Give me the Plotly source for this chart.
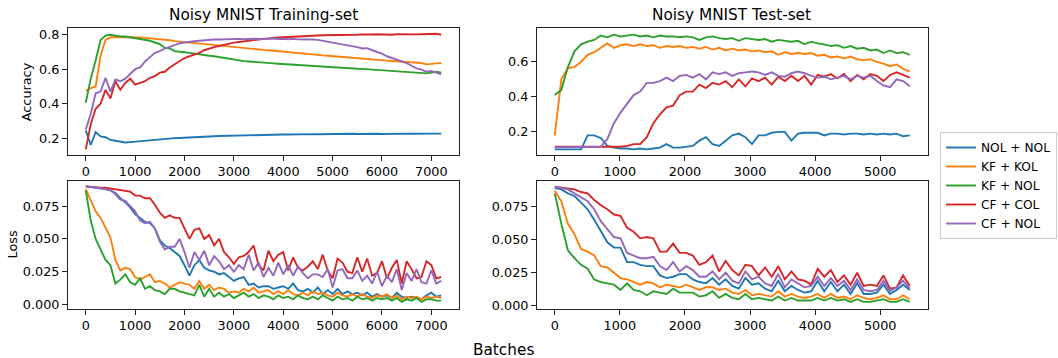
import plotly.graph_objects as go

# ---------------- data ----------------
names = ["NOL + NOL", "KF + KOL", "KF + NOL", "CF + COL", "CF + NOL"]
colors = ["#1f77b4", "#ff7f0e", "#2ca02c", "#d62728", "#9467bd"]

train_batches = list(range(0, 7300, 100))          # 73 points
test_batches = [i * 101 for i in range(55)]         # 55 points

# Training accuracy
tr_acc_nol_nol = [0.245, 0.160, 0.235, 0.210, 0.205, 0.190, 0.185, 0.178, 0.175, 0.177,
                  0.180, 0.182, 0.185, 0.188, 0.190, 0.193, 0.196, 0.198, 0.200, 0.201,
                  0.203, 0.205, 0.206, 0.207, 0.208, 0.210, 0.211, 0.212, 0.213, 0.214,
                  0.215, 0.216, 0.216, 0.217, 0.218, 0.218, 0.219, 0.219, 0.220, 0.220,
                  0.221, 0.221, 0.222, 0.221, 0.222, 0.222, 0.223, 0.222, 0.223, 0.223,
                  0.224, 0.223, 0.224, 0.224, 0.225, 0.224, 0.225, 0.224, 0.225, 0.225,
                  0.224, 0.225, 0.226, 0.225, 0.225, 0.226, 0.225, 0.226, 0.225, 0.226,
                  0.225, 0.226, 0.226]
tr_acc_kf_kol = [0.475, 0.490, 0.500, 0.680, 0.770, 0.785, 0.787, 0.787, 0.786, 0.785,
                 0.785, 0.784, 0.782, 0.780, 0.778, 0.775, 0.772, 0.768, 0.763, 0.760,
                 0.757, 0.755, 0.752, 0.750, 0.748, 0.745, 0.742, 0.740, 0.737, 0.733,
                 0.730, 0.727, 0.724, 0.721, 0.718, 0.715, 0.712, 0.710, 0.707, 0.704,
                 0.700, 0.698, 0.695, 0.692, 0.690, 0.687, 0.685, 0.682, 0.680, 0.678,
                 0.676, 0.674, 0.672, 0.670, 0.668, 0.665, 0.663, 0.660, 0.658, 0.655,
                 0.652, 0.650, 0.648, 0.646, 0.644, 0.643, 0.640, 0.638, 0.636, 0.628,
                 0.632, 0.634, 0.635]
tr_acc_kf_nol = [0.405, 0.545, 0.650, 0.770, 0.795, 0.800, 0.795, 0.790, 0.790, 0.785,
                 0.780, 0.775, 0.770, 0.765, 0.755, 0.745, 0.725, 0.720, 0.705, 0.700,
                 0.698, 0.695, 0.690, 0.685, 0.680, 0.678, 0.675, 0.670, 0.665, 0.660,
                 0.655, 0.650, 0.647, 0.645, 0.642, 0.640, 0.638, 0.636, 0.634, 0.632,
                 0.630, 0.628, 0.626, 0.624, 0.622, 0.620, 0.618, 0.616, 0.614, 0.612,
                 0.610, 0.609, 0.607, 0.606, 0.604, 0.603, 0.602, 0.600, 0.599, 0.598,
                 0.597, 0.595, 0.594, 0.592, 0.590, 0.588, 0.585, 0.582, 0.578, 0.576,
                 0.580, 0.585, 0.580]
tr_acc_cf_col = [0.135, 0.280, 0.370, 0.400, 0.480, 0.430, 0.530, 0.480, 0.520, 0.545,
                 0.510, 0.520, 0.530, 0.550, 0.560, 0.580, 0.585, 0.610, 0.630, 0.650,
                 0.665, 0.675, 0.685, 0.695, 0.710, 0.720, 0.728, 0.735, 0.742, 0.748,
                 0.754, 0.758, 0.762, 0.766, 0.770, 0.773, 0.776, 0.779, 0.782, 0.784,
                 0.786, 0.788, 0.790, 0.791, 0.792, 0.794, 0.795, 0.796, 0.797, 0.797,
                 0.798, 0.799, 0.800, 0.799, 0.801, 0.800, 0.802, 0.800, 0.801, 0.803,
                 0.801, 0.802, 0.800, 0.803, 0.802, 0.801, 0.804, 0.802, 0.803, 0.805,
                 0.803, 0.806, 0.800]
tr_acc_cf_nol = [0.250, 0.340, 0.460, 0.470, 0.550, 0.470, 0.540, 0.530, 0.545, 0.570,
                 0.600, 0.610, 0.645, 0.670, 0.695, 0.705, 0.720, 0.730, 0.740, 0.750,
                 0.755, 0.760, 0.762, 0.765, 0.768, 0.770, 0.772, 0.772, 0.774, 0.775,
                 0.775, 0.776, 0.774, 0.776, 0.777, 0.775, 0.777, 0.776, 0.778, 0.775,
                 0.777, 0.774, 0.776, 0.773, 0.774, 0.772, 0.772, 0.770, 0.765, 0.760,
                 0.755, 0.750, 0.745, 0.740, 0.735, 0.728, 0.720, 0.722, 0.710, 0.700,
                 0.690, 0.675, 0.665, 0.655, 0.645, 0.635, 0.620, 0.605, 0.598, 0.585,
                 0.590, 0.578, 0.570]

# Test accuracy
te_acc_nol_nol = [0.100, 0.100, 0.100, 0.100, 0.100, 0.180, 0.180, 0.165, 0.120, 0.110,
                  0.105, 0.105, 0.100, 0.105, 0.100, 0.105, 0.110, 0.130, 0.110, 0.110,
                  0.115, 0.120, 0.150, 0.170, 0.130, 0.120, 0.150, 0.180, 0.190, 0.170,
                  0.130, 0.180, 0.180, 0.195, 0.200, 0.200, 0.150, 0.190, 0.195, 0.195,
                  0.195, 0.180, 0.190, 0.190, 0.185, 0.190, 0.190, 0.185, 0.190, 0.185,
                  0.190, 0.185, 0.190, 0.175, 0.180]
te_acc_kf_kol = [0.180, 0.500, 0.565, 0.570, 0.600, 0.640, 0.655, 0.680, 0.705, 0.680,
                 0.695, 0.700, 0.690, 0.700, 0.690, 0.695, 0.680, 0.690, 0.685, 0.690,
                 0.680, 0.685, 0.675, 0.685, 0.670, 0.680, 0.665, 0.675, 0.665, 0.670,
                 0.660, 0.665, 0.655, 0.660, 0.640, 0.655, 0.645, 0.650, 0.645, 0.650,
                 0.635, 0.640, 0.625, 0.630, 0.620, 0.630, 0.615, 0.610, 0.615, 0.600,
                 0.590, 0.575, 0.585, 0.560, 0.545]
te_acc_kf_nol = [0.410, 0.440, 0.570, 0.660, 0.700, 0.715, 0.725, 0.750, 0.740, 0.755,
                 0.745, 0.750, 0.755, 0.745, 0.750, 0.740, 0.750, 0.745, 0.745, 0.740,
                 0.745, 0.740, 0.725, 0.740, 0.745, 0.735, 0.730, 0.735, 0.720, 0.735,
                 0.730, 0.725, 0.730, 0.715, 0.725, 0.720, 0.715, 0.720, 0.700, 0.715,
                 0.705, 0.700, 0.690, 0.695, 0.680, 0.690, 0.675, 0.680, 0.665, 0.670,
                 0.650, 0.665, 0.650, 0.655, 0.640]
te_acc_cf_col = [0.115, 0.115, 0.115, 0.115, 0.115, 0.115, 0.115, 0.115, 0.115, 0.115,
                 0.115, 0.120, 0.130, 0.130, 0.170, 0.250, 0.300, 0.340, 0.350, 0.410,
                 0.430, 0.430, 0.470, 0.450, 0.480, 0.470, 0.490, 0.455, 0.500, 0.460,
                 0.505, 0.490, 0.510, 0.470, 0.515, 0.490, 0.520, 0.490, 0.520, 0.470,
                 0.525, 0.515, 0.530, 0.505, 0.530, 0.490, 0.525, 0.500, 0.530, 0.520,
                 0.490, 0.525, 0.540, 0.525, 0.510]
te_acc_cf_nol = [0.112, 0.112, 0.112, 0.112, 0.112, 0.112, 0.112, 0.115, 0.160, 0.250,
                 0.310, 0.360, 0.410, 0.430, 0.480, 0.480, 0.490, 0.510, 0.490, 0.520,
                 0.525, 0.510, 0.530, 0.500, 0.540, 0.530, 0.540, 0.520, 0.535, 0.540,
                 0.545, 0.540, 0.525, 0.540, 0.520, 0.515, 0.535, 0.545, 0.535, 0.520,
                 0.510, 0.515, 0.500, 0.510, 0.520, 0.500, 0.520, 0.510, 0.520, 0.490,
                 0.465, 0.455, 0.500, 0.490, 0.460]

# Training loss
tr_loss_nol_nol = [0.090, 0.0895, 0.089, 0.089, 0.088, 0.087, 0.085, 0.081, 0.078, 0.074,
                   0.069, 0.066, 0.063, 0.062, 0.058, 0.049, 0.045, 0.043, 0.040, 0.037,
                   0.030, 0.022, 0.030, 0.034, 0.028, 0.026, 0.025, 0.023, 0.024, 0.021,
                   0.018, 0.020, 0.021, 0.015, 0.016, 0.013, 0.014, 0.014, 0.012, 0.013,
                   0.014, 0.012, 0.016, 0.011, 0.010, 0.012, 0.009, 0.013, 0.008, 0.011,
                   0.008, 0.012, 0.008, 0.010, 0.008, 0.009, 0.007, 0.009, 0.006, 0.008,
                   0.006, 0.007, 0.005, 0.009, 0.006, 0.005, 0.006, 0.005, 0.004, 0.007,
                   0.009, 0.006, 0.007]
tr_loss_kf_kol = [0.088, 0.080, 0.071, 0.066, 0.059, 0.051, 0.034, 0.026, 0.028, 0.027,
                  0.021, 0.019, 0.021, 0.023, 0.017, 0.018, 0.016, 0.013, 0.015, 0.017,
                  0.016, 0.015, 0.012, 0.018, 0.012, 0.015, 0.011, 0.013, 0.012, 0.009,
                  0.010, 0.009, 0.012, 0.010, 0.013, 0.009, 0.010, 0.011, 0.008, 0.010,
                  0.008, 0.011, 0.008, 0.007, 0.009, 0.007, 0.010, 0.008, 0.009, 0.007,
                  0.006, 0.009, 0.007, 0.006, 0.008, 0.006, 0.008, 0.006, 0.005, 0.007,
                  0.006, 0.008, 0.005, 0.007, 0.004, 0.006, 0.005, 0.006, 0.004, 0.006,
                  0.005, 0.006, 0.005]
tr_loss_kf_nol = [0.087, 0.064, 0.050, 0.042, 0.034, 0.030, 0.016, 0.019, 0.023, 0.017,
                  0.015, 0.020, 0.012, 0.014, 0.011, 0.010, 0.008, 0.012, 0.012, 0.010,
                  0.009, 0.008, 0.007, 0.015, 0.006, 0.012, 0.006, 0.009, 0.006, 0.008,
                  0.005, 0.007, 0.009, 0.006, 0.008, 0.005, 0.007, 0.006, 0.004, 0.007,
                  0.005, 0.006, 0.004, 0.007, 0.005, 0.004, 0.006, 0.004, 0.007, 0.005,
                  0.003, 0.006, 0.004, 0.005, 0.003, 0.006, 0.004, 0.005, 0.003, 0.005,
                  0.004, 0.005, 0.003, 0.005, 0.002, 0.004, 0.003, 0.005, 0.002, 0.004,
                  0.004, 0.003, 0.003]
tr_loss_cf_col = [0.090, 0.0895, 0.089, 0.089, 0.089, 0.0885, 0.088, 0.087, 0.087, 0.086,
                  0.083, 0.083, 0.081, 0.081, 0.076, 0.070, 0.066, 0.068, 0.066, 0.066,
                  0.058, 0.050, 0.057, 0.058, 0.050, 0.053, 0.045, 0.050, 0.040, 0.036,
                  0.031, 0.036, 0.037, 0.040, 0.045, 0.030, 0.026, 0.041, 0.033, 0.038,
                  0.040, 0.026, 0.036, 0.028, 0.026, 0.029, 0.033, 0.027, 0.038, 0.026,
                  0.020, 0.035, 0.032, 0.025, 0.024, 0.036, 0.025, 0.035, 0.022, 0.024,
                  0.033, 0.020, 0.028, 0.034, 0.016, 0.033, 0.027, 0.020, 0.021, 0.033,
                  0.030, 0.020, 0.021]
tr_loss_cf_nol = [0.090, 0.0895, 0.089, 0.089, 0.088, 0.087, 0.084, 0.080, 0.079, 0.075,
                  0.071, 0.064, 0.062, 0.063, 0.058, 0.048, 0.042, 0.044, 0.044, 0.050,
                  0.040, 0.028, 0.040, 0.034, 0.041, 0.030, 0.037, 0.033, 0.027, 0.030,
                  0.025, 0.030, 0.027, 0.038, 0.026, 0.032, 0.021, 0.028, 0.022, 0.032,
                  0.023, 0.030, 0.022, 0.029, 0.024, 0.020, 0.023, 0.023, 0.021, 0.027,
                  0.013, 0.026, 0.027, 0.020, 0.020, 0.026, 0.018, 0.022, 0.016, 0.025,
                  0.014, 0.022, 0.017, 0.027, 0.011, 0.024, 0.018, 0.027, 0.017, 0.016,
                  0.026, 0.016, 0.018]

# Test loss
te_loss_nol_nol = [0.089, 0.088, 0.085, 0.083, 0.078, 0.073, 0.065, 0.056, 0.048, 0.044,
                   0.044, 0.033, 0.033, 0.031, 0.030, 0.030, 0.023, 0.021, 0.022, 0.024,
                   0.024, 0.020, 0.018, 0.017, 0.021, 0.016, 0.020, 0.015, 0.013, 0.021,
                   0.016, 0.017, 0.013, 0.011, 0.019, 0.011, 0.015, 0.012, 0.010, 0.011,
                   0.019, 0.011, 0.018, 0.011, 0.016, 0.009, 0.017, 0.009, 0.009, 0.010,
                   0.016, 0.009, 0.012, 0.016, 0.012]
te_loss_kf_kol = [0.087, 0.079, 0.062, 0.054, 0.043, 0.041, 0.038, 0.030, 0.029, 0.025,
                  0.021, 0.020, 0.018, 0.016, 0.018, 0.017, 0.014, 0.016, 0.015, 0.014,
                  0.016, 0.014, 0.012, 0.014, 0.014, 0.012, 0.013, 0.010, 0.009, 0.012,
                  0.008, 0.009, 0.008, 0.007, 0.011, 0.007, 0.009, 0.007, 0.006, 0.007,
                  0.009, 0.006, 0.009, 0.006, 0.007, 0.005, 0.008, 0.006, 0.005, 0.006,
                  0.008, 0.005, 0.005, 0.008, 0.005]
te_loss_kf_nol = [0.085, 0.062, 0.042, 0.036, 0.031, 0.028, 0.020, 0.018, 0.017, 0.016,
                  0.012, 0.017, 0.012, 0.011, 0.008, 0.011, 0.010, 0.009, 0.013, 0.010,
                  0.010, 0.010, 0.007, 0.008, 0.011, 0.006, 0.009, 0.006, 0.005, 0.009,
                  0.005, 0.006, 0.005, 0.004, 0.007, 0.004, 0.006, 0.004, 0.004, 0.004,
                  0.006, 0.004, 0.006, 0.004, 0.005, 0.003, 0.005, 0.003, 0.003, 0.004,
                  0.005, 0.003, 0.003, 0.005, 0.003]
te_loss_cf_col = [0.090, 0.0895, 0.089, 0.088, 0.086, 0.085, 0.080, 0.076, 0.073, 0.069,
                  0.068, 0.059, 0.056, 0.051, 0.052, 0.051, 0.041, 0.041, 0.047, 0.040,
                  0.040, 0.038, 0.031, 0.033, 0.038, 0.026, 0.034, 0.027, 0.023, 0.031,
                  0.030, 0.023, 0.029, 0.022, 0.030, 0.020, 0.026, 0.020, 0.019, 0.016,
                  0.028, 0.022, 0.027, 0.018, 0.023, 0.016, 0.025, 0.015, 0.016, 0.015,
                  0.023, 0.013, 0.014, 0.023, 0.015]
te_loss_cf_nol = [0.090, 0.089, 0.088, 0.085, 0.082, 0.079, 0.073, 0.064, 0.058, 0.052,
                  0.051, 0.040, 0.038, 0.036, 0.036, 0.037, 0.030, 0.027, 0.033, 0.026,
                  0.030, 0.027, 0.022, 0.022, 0.026, 0.020, 0.025, 0.019, 0.017, 0.026,
                  0.020, 0.022, 0.017, 0.015, 0.024, 0.014, 0.020, 0.017, 0.014, 0.015,
                  0.022, 0.015, 0.021, 0.015, 0.019, 0.012, 0.020, 0.012, 0.011, 0.012,
                  0.019, 0.011, 0.014, 0.019, 0.013]

panels = [
    ("x", "y", train_batches, [tr_acc_nol_nol, tr_acc_kf_kol, tr_acc_kf_nol, tr_acc_cf_col, tr_acc_cf_nol]),
    ("x2", "y2", test_batches, [te_acc_nol_nol, te_acc_kf_kol, te_acc_kf_nol, te_acc_cf_col, te_acc_cf_nol]),
    ("x3", "y3", train_batches, [tr_loss_nol_nol, tr_loss_kf_kol, tr_loss_kf_nol, tr_loss_cf_col, tr_loss_cf_nol]),
    ("x4", "y4", test_batches, [te_loss_nol_nol, te_loss_kf_kol, te_loss_kf_nol, te_loss_cf_col, te_loss_cf_nol]),
]

# ---------------- figure ----------------
W, H = 1058, 358
fig = go.Figure()
for p, (xa, ya, xs, series) in enumerate(panels):
    for k, ys in enumerate(series):
        assert len(ys) == len(xs), (p, k, len(ys), len(xs))
        fig.add_trace(go.Scatter(
            x=xs, y=ys, xaxis=xa, yaxis=ya, mode="lines",
            name=names[k], showlegend=(p == 0),
            line=dict(color=colors[k], width=1.9),
        ))

FONT = "DejaVu Sans"
TICK_SIZE = 12.8
TITLE_SIZE = 15.3
LEGEND_SIZE = 12.2
tickfont = dict(family=FONT, size=TICK_SIZE, color="black")
axis_common = dict(showline=True, mirror=True, linecolor="#222222", linewidth=1,
                   ticks="outside", ticklen=5, tickwidth=1, tickcolor="#222222",
                   showgrid=False, zeroline=False, tickfont=tickfont)

def px_x(v):
    return v / W

def px_y(v):
    return 1 - v / H

LEFT = [px_x(68), px_x(459)]
RIGHT = [px_x(537), px_x(927.5)]
TOP = [px_y(155), px_y(27.5)]
BOT = [px_y(308.5), px_y(180.5)]

train_ticks = list(range(0, 7001, 1000))
test_ticks = list(range(0, 5001, 1000))

fig.update_layout(
    width=W, height=H,
    margin=dict(l=0, r=0, t=0, b=0, autoexpand=False),
    paper_bgcolor="white", plot_bgcolor="white",
    font=dict(family=FONT, size=TICK_SIZE, color="black"),
    xaxis=dict(domain=LEFT, anchor="y", range=[-360, 7560], tickvals=train_ticks, tickformat="d", **axis_common),
    yaxis=dict(domain=TOP, anchor="x", range=[0.102, 0.842], tickvals=[0.2, 0.4, 0.6, 0.8], tickformat=".1f", **axis_common),
    xaxis2=dict(domain=RIGHT, anchor="y2", range=[-273, 5727], tickvals=test_ticks, tickformat="d", **axis_common),
    yaxis2=dict(domain=TOP, anchor="x2", range=[0.068, 0.796], tickvals=[0.2, 0.4, 0.6], tickformat=".1f", **axis_common),
    xaxis3=dict(domain=LEFT, anchor="y3", range=[-360, 7560], tickvals=train_ticks, tickformat="d", **axis_common),
    yaxis3=dict(domain=BOT, anchor="x3", range=[-0.003, 0.0945], tickvals=[0, 0.025, 0.05, 0.075], tickformat=".3f", **axis_common),
    xaxis4=dict(domain=RIGHT, anchor="y4", range=[-273, 5727], tickvals=test_ticks, tickformat="d", **axis_common),
    yaxis4=dict(domain=BOT, anchor="x4", range=[-0.002, 0.0947], tickvals=[0, 0.025, 0.05, 0.075], tickformat=".3f", **axis_common),
    legend=dict(x=px_x(940), y=px_y(132), xanchor="left", yanchor="top",
                bgcolor="white", bordercolor="#cccccc", borderwidth=1,
                font=dict(family=FONT, size=LEGEND_SIZE, color="black"), tracegroupgap=0),
    showlegend=True,
)

# legend shadow (only the lower edge shows, as in the clipped original)
fig.add_shape(type="rect", xref="paper", yref="paper",
              x0=px_x(942), x1=px_x(1048), y0=px_y(236), y1=px_y(140),
              fillcolor="#9a9a9a", line=dict(width=0), layer="below")

ann = [
    dict(text="Noisy MNIST Training-set", x=px_x(263.5), y=px_y(15), size=TITLE_SIZE, angle=0),
    dict(text="Noisy MNIST Test-set", x=px_x(732), y=px_y(15), size=TITLE_SIZE, angle=0),
    dict(text="Accuracy", x=px_x(26.7), y=px_y(91.5), size=TICK_SIZE, angle=-90),
    dict(text="Loss", x=px_x(12), y=px_y(244.5), size=TICK_SIZE, angle=-90),
    dict(text="Batches", x=px_x(503), y=px_y(349.5), size=TITLE_SIZE, angle=0),
]
for a in ann:
    fig.add_annotation(text=a["text"], x=a["x"], y=a["y"], xref="paper", yref="paper",
                       xanchor="center", yanchor="middle", showarrow=False,
                       textangle=a["angle"], font=dict(family=FONT, size=a["size"], color="black"))

fig.write_html("out.html")
